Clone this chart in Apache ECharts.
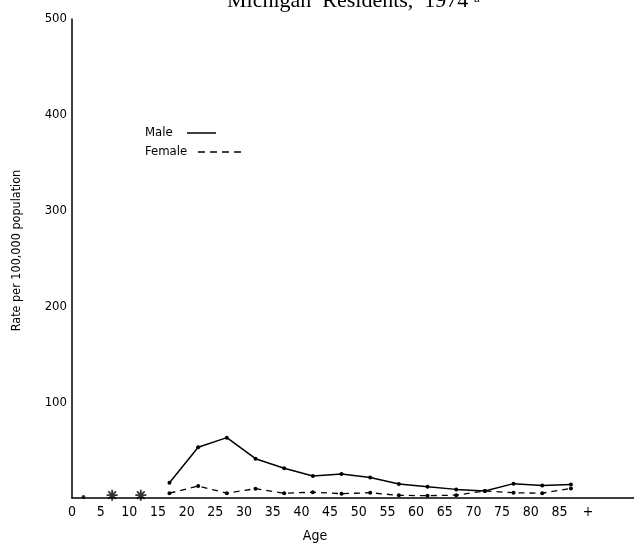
<!DOCTYPE html>
<html><head><meta charset="utf-8">
<script src="https://cdn.jsdelivr.net/npm/echarts@6/dist/echarts.min.js"></script>
<style>html,body{margin:0;padding:0;background:#fff}#c{width:634px;height:545px}</style>
</head><body><div id="c"></div>
<script>
var ages = [17,22,27,32,37,42,47,52,57,62,67,72,77,82,87];
var male = [16,53,63,41,31,23,25,21.5,14.6,11.8,9,7.3,15,13,14];
var female = [5,12.5,5,9.7,5,6,4.5,5.5,2.8,2.4,3,7.3,5.5,5,10];
var youngAges = [2];
var youngVals = [1];
var starAges = [7,12];
var starVals = [3,3];
var xTicks = ['0','5','10','15','20','25','30','35','40','45','50','55','60','65','70','75','80','85','+'];
var yTicks = [100,200,300,400,500];

var NARROW = "'Liberation Sans Narrow','DejaVu Sans Condensed','DejaVu Sans',sans-serif";
var STAR = 'path://M-1,-6L1,-6L1,6L-1,6Z M-6,-1L6,-1L6,1L-6,1Z M-4.9,-3.5L-3.5,-4.9L4.9,3.5L3.5,4.9Z M3.5,-4.9L4.9,-3.5L-3.5,4.9L-4.9,3.5Z';

function zip(a,b){return a.map(function(v,i){return [v,b[i]];});}

var chart = echarts.init(document.getElementById('c'), null, {renderer:'canvas'});
chart.setOption({
  animation:false,
  backgroundColor:'#fff',
  grid:{left:72,right:0,top:19,bottom:47,containLabel:false,outerBoundsMode:'none'},
  xAxis:{type:'value',min:0,max:98,interval:5,
    axisLine:{lineStyle:{color:'#000',width:1.5}},
    axisTick:{show:false},splitLine:{show:false},
    axisLabel:{color:'#000',fontFamily:NARROW,fontSize:14,margin:7,
      formatter:function(v){var i=Math.round(v/5);return i<xTicks.length?xTicks[i]:'';}},
    name:'Age',nameLocation:'middle',nameGap:31,
    nameTextStyle:{color:'#000',fontFamily:NARROW,fontSize:14,padding:[0,0,0,-76]}
  },
  yAxis:{type:'value',min:0,max:500,interval:100,
    axisLine:{show:true,lineStyle:{color:'#000',width:1.5}},
    axisTick:{show:false},splitLine:{show:false},
    axisLabel:{color:'#000',fontFamily:NARROW,fontSize:13,margin:5,
      formatter:function(v){return yTicks.indexOf(v)>=0?String(v):'';}},
    name:'Rate per 100,000 population',nameLocation:'middle',nameGap:49,
    nameTextStyle:{color:'#000',fontFamily:NARROW,fontSize:12.5,padding:[0,0,0,16]}
  },
  graphic:[
    {type:'text',x:227,y:12,style:{text:'Michigan  Residents,  1974',font:"22px 'Liberation Serif',serif",fill:'#000',verticalAlign:'bottom'}},
    {type:'text',x:474,y:5,style:{text:'a',font:"13px 'Liberation Serif',serif",fill:'#000',verticalAlign:'bottom'}},
    {type:'text',left:145,top:126,style:{text:'Male',font:"13px "+NARROW,fill:'#000'}},
    {type:'line',shape:{x1:187,y1:133,x2:216,y2:133},style:{stroke:'#000',lineWidth:1.5}},
    {type:'text',left:145,top:145,style:{text:'Female',font:"13px "+NARROW,fill:'#000'}},
    {type:'line',shape:{x1:198,y1:152,x2:244,y2:152},style:{stroke:'#000',lineWidth:1.5,lineDash:[7,5]}}
  ],
  series:[
    {name:'Male',type:'line',data:zip(ages,male),symbol:'circle',symbolSize:4,
      lineStyle:{color:'#000',width:1.5},itemStyle:{color:'#000'}},
    {name:'Female',type:'line',data:zip(ages,female),symbol:'circle',symbolSize:4,
      lineStyle:{color:'#000',width:1.3,type:[6,5]},itemStyle:{color:'#000'}},
    {name:'Under 5',type:'scatter',data:zip(youngAges,youngVals),symbol:'circle',symbolSize:4,itemStyle:{color:'#000'}},
    {name:'Small numbers',type:'scatter',data:zip(starAges,starVals),symbol:STAR,symbolSize:11,itemStyle:{color:'#000'}}
  ]
});
</script></body></html>
